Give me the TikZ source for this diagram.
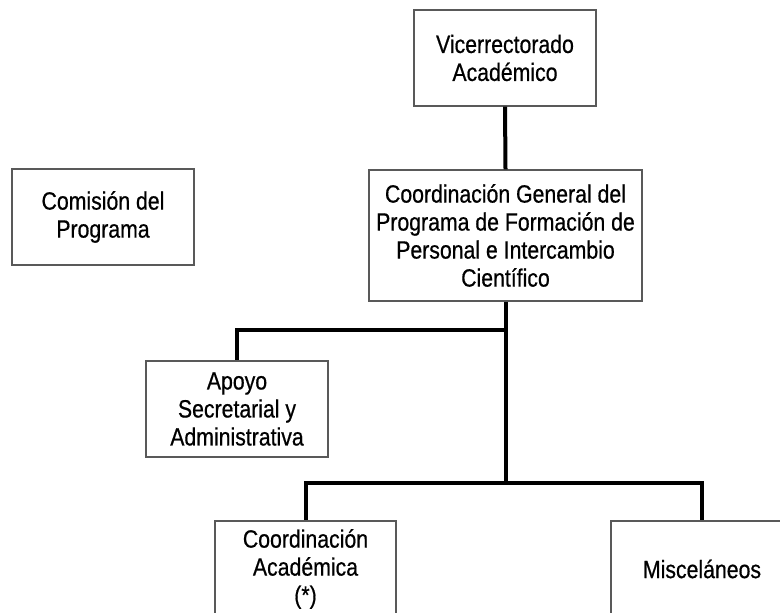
\documentclass[tikz,border=0pt]{standalone}
\usepackage{fontspec}
\setmainfont{Liberation Sans}[FakeStretch=0.85, FakeBold=0.6]
\usepackage{tikz}

\begin{document}
\begin{tikzpicture}[x=0.5pt, y=-0.5pt,
  box/.style={draw=black!65, line width=0.55pt, align=center, inner sep=0pt,
    minimum width=91pt, minimum height=48pt,
    font=\fontsize{12.5pt}{14pt}\selectfont},
  link/.style={black, line width=2pt, line join=miter}]
  \useasboundingbox (0,0) rectangle (780,613);
  \clip (0,0) rectangle (780,613);
  \node[box] (vice) at (505,58) {Vicerrectorado\\Académico};
  \node[box] (comision) at (103,217) {Comisión del\\Programa};
  \node[box, minimum width=136.5pt, minimum height=65.5pt] (general) at (505.5,235.5)
    {Coordinación General del\\Programa de Formación de\\Personal e Intercambio\\Científico};
  \node[box] (apoyo) at (237,409) {Apoyo\\Secretarial y\\Administrativa};
  \node[box, minimum width=90.5pt] (coordacad) at (305.5,569) {Coordinación\\Académica\\(*)};
  \node[box] (misc) at (702,569) {Misceláneos};
  \coordinate (j1) at (505.5,330);
  \coordinate (j2) at (505.5,483);
  \draw[link] (vice.south) -- (general.north);
  \draw[link] (general.south) -- (j2);
  \draw[link] (j1) -| (apoyo.north);
  \draw[link] (j2) -| (coordacad.north);
  \draw[link] (j2) -| (misc.north);
\end{tikzpicture}
\end{document}
